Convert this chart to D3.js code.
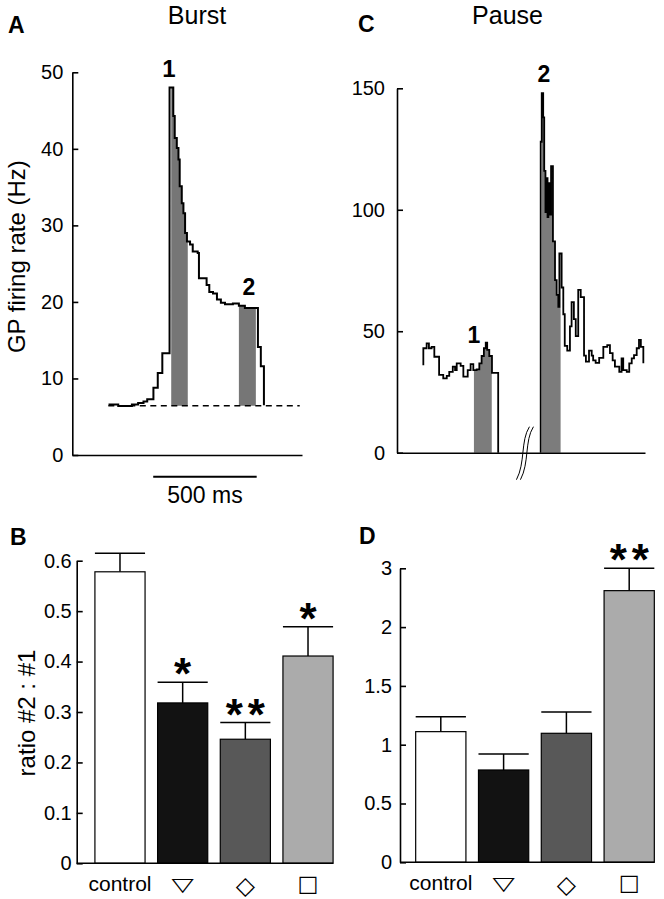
<!DOCTYPE html>
<html><head><meta charset="utf-8">
<script src="https://cdn.jsdelivr.net/npm/d3@7"></script>
<style>body{margin:0;background:#fff}</style>
</head><body><svg id="fig" width="664" height="899"></svg>
<script>
// ---------------- DATA ----------------
// Panel A (Burst): PSTH, time in ms, rate in Hz (step function)
const burstT  = [175, 222, 288, 318, 344, 362, 392, 413, 435, 470, 488, 495, 505, 513, 519, 529, 537, 545, 554, 569, 582, 606, 612, 649, 662, 680, 699, 718, 738, 776, 805, 834, 897, 911, 926];
const burstHz = [6.6, 6.4, 6.6, 6.8, 7.0, 7.3, 8.8, 10.7, 13.3, 48, 44.3, 41.4, 40.1, 38.6, 35.1, 32.9, 31.6, 29.0, 27.9, 27.5, 26.6, 26.4, 23.1, 22.2, 21.3, 21.1, 20.3, 19.9, 19.7, 19.8, 19.5, 19.2, 14.1, 11.6, 6.5];
const burstBaseline = 6.45;
const burstBaselineSpan = [174, 1099];
const burstShadeStart = [478, 805];
const burstShadeEnd   = [558, 887];
const burstYTicks = [0, 10, 20, 30, 40, 50];
const burstScaleBar = [391, 891];

// Panel C (Pause): two segments around an axis break
const pause1T  = [127, 127, 143, 154, 167, 180, 203, 223, 240, 252, 269, 280, 288, 307, 320, 341, 355, 368, 384, 397, 408, 419, 428, 435, 445, 458, 488];
const pause1Hz = [36, 43, 45, 43, 43.6, 39.5, 32, 30.6, 31.6, 33.3, 35.4, 34, 36.8, 35.7, 31.3, 34, 36.5, 34, 34.3, 36.8, 39.8, 43, 45.3, 42.3, 39.8, 32.9, 0];
const pause2T  = [693, 693, 698, 705, 710, 716, 721, 726, 730, 735, 743, 752, 762, 770, 778, 783, 794, 802, 809, 821, 834, 842, 853, 862, 874, 886, 902, 911, 926, 939, 946, 958, 975, 995, 1014, 1027, 1040, 1051, 1072, 1083, 1091, 1108, 1120, 1132, 1143, 1156, 1167, 1176, 1188];
const pause2Hz = [0, 128, 148, 138, 116, 99, 113, 97, 111, 98, 118, 87, 71, 65, 60, 82, 68, 57, 44, 42, 52, 62, 55, 48, 67, 64, 40, 37.5, 42, 40, 38, 37, 39, 43.6, 44.3, 41, 38, 35.4, 33.3, 38.8, 34, 33.3, 36.8, 38.8, 40.2, 43, 46.4, 43.6, 36.8];
const pauseShadeStart = [371, 699];
const pauseShadeEnd   = [457, 789];
const pauseBreakT = 605;
const pauseYTicks = [0, 50, 100, 150];

// Panels B and D: ratio #2 : #1
const categories = ["control", "▽", "◇", "□"];
const burstRatio = [0.578, 0.318, 0.246, 0.411];
const burstSem   = [0.037, 0.041, 0.033, 0.058];
const burstStars = [0, 1, 2, 1];
const burstRatioTicks  = [0, 0.1, 0.2, 0.3, 0.4, 0.5, 0.6];
const burstRatioLabels = ["0", "0.1", "0.2", "0.3", "0.4", "0.5", "0.6"];
const pauseRatio = [1.111, 0.785, 1.097, 2.31];
const pauseSem   = [0.127, 0.136, 0.181, 0.19];
const pauseStars = [0, 0, 0, 2];
const pauseRatioTicks  = [0, 0.5, 1, 1.5, 2, 2.5];
const pauseRatioLabels = ["0", "0.5", "1", "1.5", "2", "3"];
const barFills = ["#ffffff", "#121212", "#585858", "#ababab"];

// ---------------- DRAWING ----------------
const FONT = '"Liberation Sans", Arial, Helvetica, sans-serif';
const SYMFONT = '"DejaVu Sans", sans-serif';
const svg = d3.select("#fig");
svg.append("rect").attr("width", 664).attr("height", 899).attr("fill", "#fff");

function styleAxis(g, fs) {
  g.attr("font-family", FONT).attr("font-size", fs);
  g.select(".domain").attr("stroke", "#000").attr("stroke-width", 1.6);
  g.selectAll(".tick line").attr("stroke", "#000").attr("stroke-width", 1.6);
  g.selectAll(".tick text").attr("fill", "#000");
}
function txt(x, y, s, size, opts = {}) {
  const t = svg.append("text").attr("x", x).attr("y", y).text(s)
    .attr("font-family", opts.family || FONT).attr("font-size", size)
    .attr("text-anchor", opts.anchor || "middle").attr("fill", "#000");
  if (opts.bold) t.attr("font-weight", "bold");
  if (opts.transform) t.attr("transform", opts.transform);
  return t;
}
function stretchedTxt(x, y, s, size, sx, sy, family) {
  return txt(x / sx, y / sy, s, size, { family, transform: `scale(${sx},${sy})` });
}

// ===== Panel A =====
const xA = d3.scaleLinear().domain([0, 1110]).range([72.3, 302]);
const yA = d3.scaleLinear().domain([0, 50]).range([455, 72.3]);
const burstData = d3.zip(burstT, burstHz);

const gA = svg.append("g");
burstShadeStart.forEach((s, i) => {
  const id = "clipA" + i;
  svg.append("clipPath").attr("id", id).append("rect")
    .attr("x", xA(s)).attr("width", xA(burstShadeEnd[i]) - xA(s))
    .attr("y", 0).attr("height", 899);
  gA.append("path").datum(burstData)
    .attr("clip-path", `url(#${id})`)
    .attr("fill", "#767676")
    .attr("d", d3.area().curve(d3.curveStepAfter)
      .x(d => xA(d[0])).y0(yA(burstBaseline)).y1(d => yA(d[1])));
});
gA.append("line")
  .attr("x1", xA(burstBaselineSpan[0])).attr("x2", xA(burstBaselineSpan[1]))
  .attr("y1", yA(burstBaseline)).attr("y2", yA(burstBaseline))
  .attr("stroke", "#000").attr("stroke-width", 1.5).attr("stroke-dasharray", "6,4.5");
gA.append("path").datum(burstData)
  .attr("fill", "none").attr("stroke", "#000").attr("stroke-width", 2)
  .attr("d", d3.line().curve(d3.curveStepAfter).x(d => xA(d[0])).y(d => yA(d[1])));

const axAy = svg.append("g").attr("transform", `translate(${xA(0)},0)`)
  .call(d3.axisLeft(yA).tickValues(burstYTicks).tickSizeInner(-6).tickSizeOuter(0).tickPadding(9));
styleAxis(axAy, 20);
const axAx = svg.append("g").attr("transform", `translate(0,${yA(0)})`)
  .call(d3.axisBottom(xA).tickValues([]).tickSizeOuter(0));
styleAxis(axAx, 20);

// scale bar
svg.append("line").attr("x1", xA(burstScaleBar[0])).attr("x2", xA(burstScaleBar[1]))
  .attr("y1", yA(0) + 21.7).attr("y2", yA(0) + 21.7).attr("stroke", "#000").attr("stroke-width", 2);
txt((xA(burstScaleBar[0]) + xA(burstScaleBar[1])) / 2, yA(0) + 48, "500 ms", 23);

txt(197, 24, "Burst", 25);
txt(8, 33, "A", 23, { bold: true, anchor: "start" });
txt(0, 0, "GP firing rate (Hz)", 24, { transform: `translate(25,${(yA(0) + yA(50)) / 2 - 7}) rotate(-90)` });
txt(169, 77, "1", 24, { bold: true });
txt(249, 295, "2", 23, { bold: true });

// ===== Panel C =====
const xC = d3.scaleLinear().domain([0, 1196]).range([397, 645]);
const yC = d3.scaleLinear().domain([0, 150]).range([452.7, 88.3]);
const pauseSegs = [d3.zip(pause1T, pause1Hz), d3.zip(pause2T, pause2Hz)];
const gC = svg.append("g");
pauseShadeStart.forEach((s, i) => {
  const id = "clipC" + i;
  svg.append("clipPath").attr("id", id).append("rect")
    .attr("x", xC(s)).attr("width", xC(pauseShadeEnd[i]) - xC(s))
    .attr("y", 0).attr("height", 899);
  gC.append("path").datum(pauseSegs[i])
    .attr("clip-path", `url(#${id})`)
    .attr("fill", "#7c7c7c")
    .attr("d", d3.area().curve(d3.curveStepAfter)
      .x(d => xC(d[0])).y0(yC(0)).y1(d => yC(d[1])));
});
pauseSegs.forEach(seg => {
  gC.append("path").datum(seg)
    .attr("fill", "none").attr("stroke", "#000").attr("stroke-width", 1.8)
    .attr("d", d3.line().curve(d3.curveStepAfter).x(d => xC(d[0])).y(d => yC(d[1])));
});
const axCy = svg.append("g").attr("transform", `translate(${xC(0)},0)`)
  .call(d3.axisLeft(yC).tickValues(pauseYTicks).tickSizeInner(-6).tickSizeOuter(0).tickPadding(12));
styleAxis(axCy, 20);
const axCx = svg.append("g").attr("transform", `translate(0,${yC(0)})`)
  .call(d3.axisBottom(xC).tickValues([]).tickSizeOuter(0));
styleAxis(axCx, 20);
// axis break mark
const bx = xC(pauseBreakT), by = yC(0);
[0, 4].forEach(off => {
  svg.append("path")
    .attr("d", `M${bx + 7 + off},${by - 26} C${bx - 2 + off},${by - 12} ${bx + 3 + off},${by + 10} ${bx - 6 + off},${by + 27}`)
    .attr("fill", "none").attr("stroke", "#000").attr("stroke-width", 1);
});

txt(507.5, 24, "Pause", 25);
txt(358, 32, "C", 23, { bold: true, anchor: "start" });
txt(474, 343, "1", 23, { bold: true });
txt(544, 82, "2", 23, { bold: true });

// ===== Bar panels =====
function categoryLabel(i, xm, base) {
  if (i === 0) return txt(xm, base, categories[i], 21);
  if (i === 1) return stretchedTxt(xm, base, categories[i], 29, 1, 0.64, SYMFONT);
  if (i === 2) return txt(xm, base + 3, categories[i], 25, { family: SYMFONT });
  return txt(xm, base, categories[i], 22, { family: SYMFONT });
}
function barPanel(cfg) {
  const x = d3.scaleBand().domain(categories).range(cfg.xr).paddingInner(0.2).paddingOuter(0.1);
  const y = d3.scaleLinear().domain(cfg.yd).range(cfg.yr);
  const bw = x.bandwidth();
  const g = svg.append("g");
  categories.forEach((c, i) => {
    const x0 = x(c), xm = x0 + bw / 2, top = y(cfg.vals[i]), et = y(cfg.vals[i] + cfg.sem[i]);
    g.append("line").attr("x1", xm).attr("x2", xm).attr("y1", top).attr("y2", et)
      .attr("stroke", "#000").attr("stroke-width", 1.5);
    g.append("line").attr("x1", x0).attr("x2", x0 + bw).attr("y1", et).attr("y2", et)
      .attr("stroke", "#000").attr("stroke-width", 1.5);
    g.append("rect").attr("x", x0).attr("y", top).attr("width", bw).attr("height", y(0) - top)
      .attr("fill", barFills[i]).attr("stroke", "#000").attr("stroke-width", 1.2);
    const n = cfg.stars[i];
    for (let k = 0; k < n; k++) {
      txt(xm + (k - (n - 1) / 2) * 22, et + 7, "*", 44, { bold: true });
    }
    categoryLabel(i, xm, y(0) + 28);
  });
  const ax = svg.append("g").attr("transform", `translate(${cfg.axisX},0)`)
    .call(d3.axisLeft(y).tickValues(cfg.ticks).tickFormat((d, i) => cfg.labels[i])
      .tickSizeInner(-6).tickSizeOuter(0).tickPadding(cfg.pad));
  styleAxis(ax, 20);
  const last = categories[categories.length - 1];
  svg.append("line").attr("x1", cfg.axisX).attr("x2", x(last) + bw)
    .attr("y1", y(0)).attr("y2", y(0)).attr("stroke", "#000").attr("stroke-width", 1.6);
  return { x, y };
}

barPanel({ xr: [88.65, 339.35], yd: [0, 0.6], yr: [863.3, 560.7], axisX: 76.7, pad: 5,
  vals: burstRatio, sem: burstSem, stars: burstStars, ticks: burstRatioTicks, labels: burstRatioLabels });
barPanel({ xr: [409.4, 660.6], yd: [0, 2.5], yr: [862.3, 568.3], axisX: 400, pad: 8,
  vals: pauseRatio, sem: pauseSem, stars: pauseStars, ticks: pauseRatioTicks, labels: pauseRatioLabels });

txt(10, 545, "B", 23, { bold: true, anchor: "start" });
txt(359, 544, "D", 23, { bold: true, anchor: "start" });
txt(0, 0, "ratio #2 : #1", 24, { transform: "translate(35,713) rotate(-90)" });
</script>
</body></html>
